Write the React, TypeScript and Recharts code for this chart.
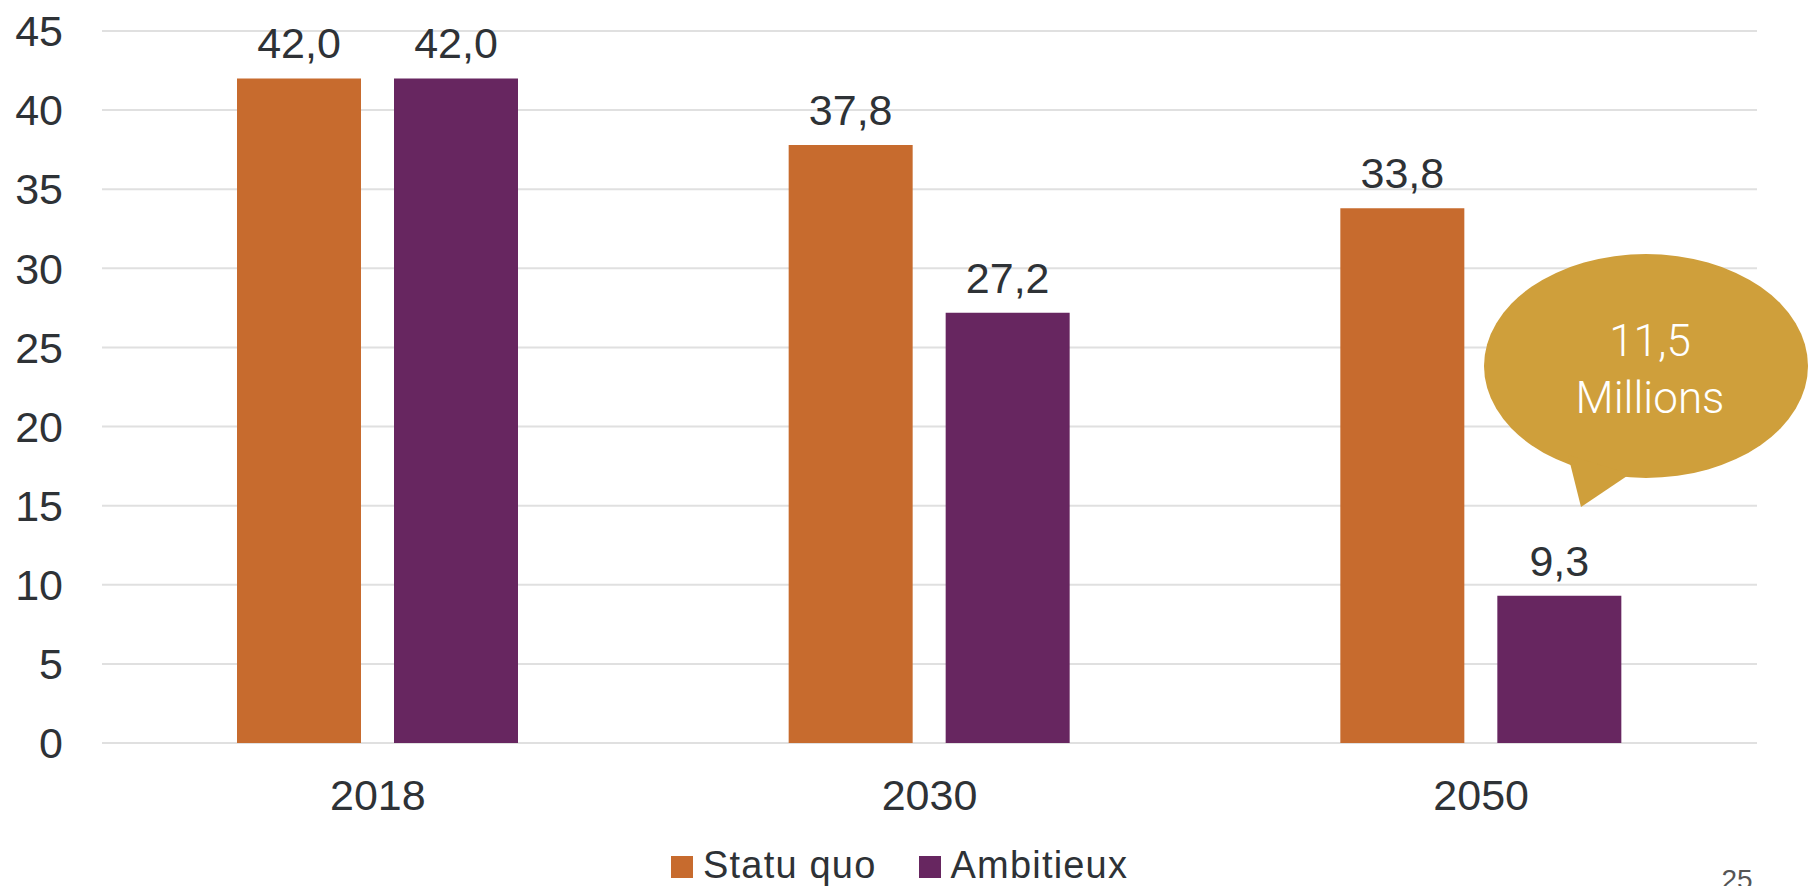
import React from 'react';
import { BarChart, Bar, XAxis, YAxis, CartesianGrid, Legend, LabelList } from 'recharts';

const years = ['2018', '2030', '2050'];
const statuQuo = [42.0, 37.8, 33.8];
const ambitieux = [42.0, 27.2, 9.3];
const yTicks = [0, 5, 10, 15, 20, 25, 30, 35, 40, 45];

const seriesNames = ['Statu quo', 'Ambitieux'];
const colours = ['#C76B2E', '#672660'];
const bubbleLines = ['11,5', 'Millions'];
const pageNumber = '25';

const textColour = '#2E3236';
const font = '"Liberation Sans", Arial, sans-serif';

const data = years.map((year, i) => ({
  year,
  statu: statuQuo[i],
  ambi: ambitieux[i],
}));

const fmt = (v: any) => Number(v).toFixed(1).replace('.', ',');

function LegendContent() {
  return (
    <div style={{ display: 'flex', alignItems: 'flex-start', paddingLeft: 671, fontFamily: font, fontSize: 38, lineHeight: '38px', letterSpacing: 1.2, color: textColour }}>
      {seriesNames.map((name, i) => (
        <div key={name} style={{ display: 'flex', alignItems: 'flex-start', marginRight: 42 }}>
          <span style={{ display: 'inline-block', width: 22, height: 22, background: colours[i], marginRight: 10, marginTop: 10 }} />
          <span>{name}</span>
        </div>
      ))}
    </div>
  );
}

export default function App() {
  return (
    <div style={{ position: 'absolute', left: 0, top: 0, width: 1808, height: 886, background: '#fff', overflow: 'hidden' }}>
      <BarChart
        width={1808}
        height={886}
        data={data}
        margin={{ top: 31, right: 51, bottom: 0, left: 0 }}
        barSize={124}
        barGap={33}
      >
        <CartesianGrid vertical={false} stroke="#E0E0E0" strokeWidth={2} />
        <XAxis
          dataKey="year"
          height={143}
          axisLine={false}
          tickLine={false}
          tickSize={0}
          tickMargin={36}
          tick={{ fill: textColour, fontSize: 43, fontFamily: font }}
        />
        <YAxis
          width={102}
          domain={[0, 45]}
          ticks={yTicks}
          axisLine={false}
          tickLine={false}
          tickSize={0}
          tickMargin={39}
          tick={{ fill: textColour, fontSize: 43, fontFamily: font }}
        />
        <Legend
          verticalAlign="middle"
          align="center"
          layout="horizontal"
          wrapperStyle={{ top: 846, left: 0, width: 1808 }}
          content={<LegendContent />}
        />
        <Bar dataKey="statu" name={seriesNames[0]} fill={colours[0]} isAnimationActive={false}>
          <LabelList dataKey="statu" position="top" offset={20} formatter={fmt}
            style={{ fill: textColour, fontSize: 43, fontFamily: font }} />
        </Bar>
        <Bar dataKey="ambi" name={seriesNames[1]} fill={colours[1]} isAnimationActive={false}>
          <LabelList dataKey="ambi" position="top" offset={20} formatter={fmt}
            style={{ fill: textColour, fontSize: 43, fontFamily: font }} />
        </Bar>
      </BarChart>
      <svg width={1808} height={886} style={{ position: 'absolute', left: 0, top: 0, pointerEvents: 'none' }}>
        <ellipse cx={1646} cy={366} rx={162} ry={112} fill="#CF9F3B" />
        <polygon points="1568,455 1581,507 1630,474" fill="#CF9F3B" />
        <text x={1650} y={356} textAnchor="middle" fill="#fff" fontSize={44} fontFamily="Roboto, sans-serif" fontWeight={300}>
          {bubbleLines[0]}
        </text>
        <text x={1650} y={413} textAnchor="middle" fill="#fff" fontSize={44} fontFamily="Roboto, sans-serif" fontWeight={300}>
          {bubbleLines[1]}
        </text>
        <text x={1737} y={889} textAnchor="middle" fill="#555" fontSize={28} fontFamily={font}>
          {pageNumber}
        </text>
      </svg>
    </div>
  );
}
